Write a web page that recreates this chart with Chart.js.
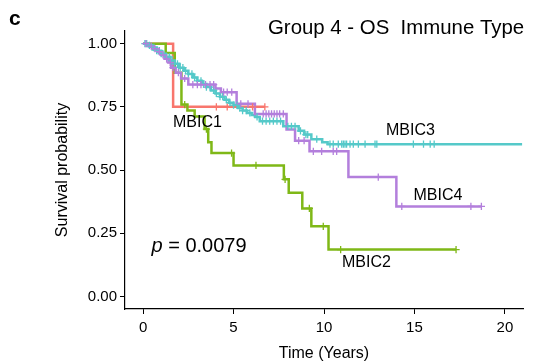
<!DOCTYPE html>
<html><head><meta charset="utf-8">
<script src="https://cdn.jsdelivr.net/npm/chart.js@4.4.0/dist/chart.umd.min.js"></script>
<style>html,body{margin:0;padding:0;background:#fff;}#wrap{width:539px;height:362px;}</style>
</head><body><div id="wrap"><canvas id="c" width="539" height="362"></canvas></div>
<script>
// ---- data ----
const groups = ['MBIC1', 'MBIC2', 'MBIC3', 'MBIC4'];
const xTicks = [0, 5, 10, 15, 20];
const yTicks = [0, 0.25, 0.5, 0.75, 1];
const yTickLabels = ['0.00', '0.25', '0.50', '0.75', '1.00'];

const mbic1Time = [0, 1.66, 6.73];
const mbic1Surv = [1, 0.75, 0.75];
const mbic1Censor = [4.05, 4.65, 6.05, 6.73];

const mbic2Time = [0, 1.25, 1.75, 2.12, 2.45, 2.85, 3.4, 3.6, 3.78, 5.0, 7.78, 8.05, 8.8, 9.3, 10.25, 17.3];
const mbic2Surv = [1, 0.963, 0.885, 0.759, 0.735, 0.712, 0.662, 0.61, 0.567, 0.518, 0.463, 0.41, 0.348, 0.277, 0.185, 0.185];
const mbic2Censor = [2.3, 3.5, 4.89, 6.24, 7.85, 9.19, 9.96, 10.92, 17.3];

const mbic3Time = [0, 0.25, 0.5, 0.75, 1.0, 1.25, 1.5, 1.75, 2.0, 2.25, 2.5, 2.75, 3.0, 3.25, 3.5, 3.75, 4.0, 4.25, 4.5, 4.75, 5.0, 5.25, 5.5, 5.75, 6.0, 6.2, 6.45, 7.75, 8.6, 8.9, 9.3, 9.9, 10.2, 20.95];
const mbic3Surv = [1, 0.993, 0.985, 0.972, 0.96, 0.948, 0.933, 0.92, 0.905, 0.893, 0.88, 0.866, 0.853, 0.84, 0.828, 0.815, 0.803, 0.79, 0.778, 0.766, 0.757, 0.745, 0.735, 0.726, 0.718, 0.71, 0.693, 0.673, 0.655, 0.64, 0.622, 0.61, 0.602, 0.602];
const mbic3Censor = [0.1, 0.2, 0.35, 0.5, 0.6, 0.75, 0.9, 1.0, 1.15, 1.3, 1.45, 1.6, 1.75, 1.9, 2.05, 2.2, 2.35, 2.5, 2.7, 2.85, 3.0, 3.2, 3.35, 3.5, 3.7, 3.9, 4.05, 4.25, 4.4, 4.6, 4.8, 5.0, 5.2, 5.35, 5.5, 5.7, 5.9, 6.3, 6.6, 6.8, 7.0, 7.2, 7.4, 7.6, 8.0, 8.2, 8.4, 8.7, 9.0, 9.1, 9.6, 10.33, 10.51, 10.79, 10.98, 11.07, 11.16, 11.25, 11.44, 11.62, 11.9, 12.27, 12.82, 12.92, 14.94, 15.5, 15.87, 16.09];

const mbic4Time = [0, 0.3, 0.55, 0.8, 1.0, 1.2, 1.4, 1.55, 1.8, 2.1, 2.5, 4.0, 4.3, 5.17, 6.18, 7.93, 8.4, 9.2, 11.35, 14.0, 18.7];
const mbic4Surv = [1, 0.99, 0.98, 0.968, 0.955, 0.94, 0.925, 0.905, 0.885, 0.862, 0.838, 0.822, 0.808, 0.762, 0.722, 0.66, 0.616, 0.574, 0.472, 0.356, 0.356];
const mbic4Censor = [0.15, 0.45, 0.65, 0.9, 1.1, 1.3, 1.5, 1.65, 1.95, 2.3, 2.75, 3.0, 3.2, 3.45, 3.7, 3.9, 4.45, 4.65, 4.9, 5.4, 5.8, 6.64, 6.8, 6.95, 7.1, 7.25, 7.4, 7.55, 7.75, 8.6, 8.9, 9.41, 9.87, 10.51, 10.7, 13.0, 14.3, 18.12, 18.7];

const pValueText = '0.0079';

// ---- helpers ----
const FONT = "'Liberation Sans', Arial, Helvetica, sans-serif";
const colors = ['#F8766D', '#7FB817', '#55C9C9', '#B37FDC'];
const times = [mbic1Time, mbic2Time, mbic3Time, mbic4Time];
const survs = [mbic1Surv, mbic2Surv, mbic3Surv, mbic4Surv];
const censors = [mbic1Censor, mbic2Censor, mbic3Censor, mbic4Censor];

function survAt(t, s, x) {
  let v = s[0];
  for (let i = 0; i < t.length; i++) { if (t[i] <= x) v = s[i]; }
  return v;
}

const datasets = [];
const lineOrder = [7, 6, 5, 4];
groups.forEach((g, i) => {
  datasets.push({
    type: 'line', label: g,
    data: times[i].map((t, k) => ({ x: t, y: survs[i][k] })),
    stepped: 'before', borderColor: colors[i], borderWidth: 2.5,
    pointRadius: 0, fill: false, tension: 0, order: lineOrder[i]
  });
});
groups.forEach((g, i) => {
  datasets.push({
    type: 'scatter', label: g + ' censor',
    data: censors[i].map(t => ({ x: t, y: survAt(times[i], survs[i], t) })),
    pointStyle: 'cross', pointRadius: 3.6, borderWidth: 1.3,
    borderColor: colors[i], backgroundColor: colors[i], showLine: false, order: 3 - i
  });
});

const textPlugin = {
  id: 'texts',
  afterDraw(chart) {
    const ctx = chart.ctx;
    ctx.save();
    ctx.fillStyle = '#000';
    ctx.textBaseline = 'alphabetic';
    ctx.textAlign = 'left';
    // panel letter
    ctx.font = 'bold 21px ' + FONT;
    ctx.fillText('c', 9, 25);
    // title
    ctx.font = '20.4px ' + FONT;
    ctx.fillText('Group 4 - OS  Immune Type', 268, 34);
    // group labels
    ctx.font = '16px ' + FONT;
    ctx.fillText(groups[0], 173, 126.7);
    ctx.fillText(groups[1], 342, 266.7);
    ctx.fillText(groups[2], 386, 135);
    ctx.fillText(groups[3], 413.5, 200);
    // p value
    ctx.font = 'italic 20px ' + FONT;
    ctx.fillText('p', 151.5, 251.7);
    const w = ctx.measureText('p').width;
    ctx.font = '20px ' + FONT;
    ctx.fillText(' = ' + pValueText, 151.5 + w, 251.7);
    // axis titles
    ctx.font = '16px ' + FONT;
    ctx.textAlign = 'center';
    const ca = chart.chartArea;
    ctx.fillText('Time (Years)', (ca.left + ca.right) / 2, 358);
    ctx.translate(67, (ca.top + ca.bottom) / 2);
    ctx.rotate(-Math.PI / 2);
    ctx.font = '16px ' + FONT;
    ctx.fillText('Survival probability', 0, 0);
    ctx.restore();
  }
};

new Chart(document.getElementById('c'), {
  data: { datasets },
  options: {
    responsive: false, animation: false, devicePixelRatio: 1,
    layout: { padding: { top: 31, right: 16, left: 0, bottom: 0 } },
    plugins: { legend: { display: false }, tooltip: { enabled: false }, title: { display: false } },
    scales: {
      x: {
        type: 'linear', min: -1, max: 21,
        afterBuildTicks: s => { s.ticks = xTicks.map(v => ({ value: v })); },
        afterFit: s => { s.height = 53; },
        grid: { drawOnChartArea: false, drawTicks: true, tickLength: 5, tickColor: '#000', tickWidth: 1 },
        border: { display: true, color: '#000', width: 1.2 },
        ticks: { color: '#000', font: { family: FONT, size: 15 }, padding: 5, maxRotation: 0, autoSkip: false }
      },
      y: {
        type: 'linear', min: -0.05, max: 1.05,
        afterBuildTicks: s => { s.ticks = yTicks.map(v => ({ value: v })); },
        afterFit: s => { s.width = 125; },
        grid: { drawOnChartArea: false, drawTicks: true, tickLength: 5, tickColor: '#000', tickWidth: 1 },
        border: { display: true, color: '#000', width: 1.2 },
        ticks: { color: '#000', font: { family: FONT, size: 15 }, padding: 3, autoSkip: false,
          callback: v => yTickLabels[yTicks.indexOf(v)] }
      }
    }
  },
  plugins: [textPlugin]
});
</script></body></html>
